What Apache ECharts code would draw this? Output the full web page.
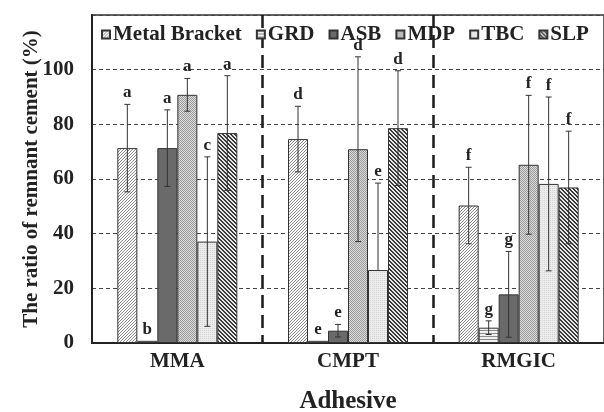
<!DOCTYPE html>
<html>
<head>
<meta charset="utf-8">
<script src="https://cdn.jsdelivr.net/npm/echarts@6/dist/echarts.min.js"></script>
<style>
    html,body{margin:0;padding:0;background:#fff;}
    #chart{width:604px;height:412px;}
</style>
</head>
<body>
<div id="chart"></div>
<script>
    const adhesives = ['MMA', 'CMPT', 'RMGIC']
    const groups = ['Metal Bracket', 'GRD', 'ASB', 'MDP', 'TBC', 'SLP']
    // mean per adhesive, one array per group
    const metalBracket = [71.3, 74.6, 50.3]
    const grd = [0.8, 0.8, 5.6]
    const asb = [71.3, 4.5, 17.8]
    const mdp = [90.8, 70.9, 65.2]
    const tbc = [37.1, 26.7, 58.2]
    const slp = [76.8, 78.6, 56.9]
    // standard deviation
    const sdMetalBracket = [16, 12, 14]
    const sdGrd = [0, 0, 2.5]
    const sdAsb = [14, 2.3, 15.7]
    const sdMdp = [6, 33.8, 25.4]
    const sdTbc = [31, 31.8, 31.8]
    const sdSlp = [21, 21, 20.6]
    // significance letters
    const lettersMetalBracket = ['a', 'd', 'f']
    const lettersGrd = ['b', 'e', 'g']
    const lettersAsb = ['a', 'e', 'g']
    const lettersMdp = ['a', 'd', 'f']
    const lettersTbc = ['c', 'e', 'f']
    const lettersSlp = ['a', 'd', 'f']
    const yTicks = [0, 20, 40, 60, 80, 100]

    const means = [metalBracket, grd, asb, mdp, tbc, slp]
    const sds = [sdMetalBracket, sdGrd, sdAsb, sdMdp, sdTbc, sdSlp]
    const letters = [lettersMetalBracket, lettersGrd, lettersAsb, lettersMdp, lettersTbc, lettersSlp]

    const FONT = '"Liberation Serif","Times New Roman",serif'
    const BAR_W = 20

    // little canvas patterns for the hatched fills
    function makePattern(kind){
        const c = document.createElement('canvas')
        const ctx = c.getContext('2d')
        if(kind === 'fwd'){
            c.width = 3; c.height = 3
            ctx.fillStyle = '#fff'; ctx.fillRect(0,0,3,3)
            ctx.fillStyle = '#8a8a8a'
            for(let i=0;i<3;i++){ ctx.fillRect(2-i,i,1,1) }
        } else if(kind === 'horiz'){
            c.width = 4; c.height = 3
            ctx.fillStyle = '#f0f0f0'; ctx.fillRect(0,0,4,3)
            ctx.fillStyle = '#8c8c8c'; ctx.fillRect(0,0,4,1)
        } else if(kind === 'check'){
            c.width = 2; c.height = 2
            ctx.fillStyle = '#dcdcdc'; ctx.fillRect(0,0,2,2)
            ctx.fillStyle = '#9a9a9a'; ctx.fillRect(0,0,1,1); ctx.fillRect(1,1,1,1)
        } else if(kind === 'dots'){
            c.width = 2; c.height = 2
            ctx.fillStyle = '#ececec'; ctx.fillRect(0,0,2,2)
            ctx.fillStyle = '#d4d4d4'; ctx.fillRect(0,0,1,1)
        } else if(kind === 'back'){
            c.width = 4; c.height = 4
            ctx.fillStyle = '#e8e8e8'; ctx.fillRect(0,0,4,4)
            ctx.fillStyle = '#3a3a3a'
            for(let i=0;i<4;i++){ ctx.fillRect(i,i,1,1); ctx.fillRect((i+1)%4,i,1,1) }
        }
        return {image:c, repeat:'repeat'}
    }
    const fills = [
        makePattern('fwd'),
        makePattern('horiz'),
        '#6a6a6a',
        makePattern('check'),
        makePattern('dots'),
        makePattern('back')
    ]

    const barSeries = groups.map((name, i) => ({
        name: name,
        type: 'bar',
        barWidth: BAR_W,
        barGap: '0%',
        data: means[i],
        itemStyle: {color: fills[i], borderColor: '#333', borderWidth: 1},
        emphasis: {disabled: true}
    }))

    const errSeries = groups.map((name, i) => ({
        name: 'err' + i,
        type: 'custom',
        z: 5,
        silent: true,
        data: adhesives.map((a, k) => [k, means[i][k], sds[i][k], letters[i][k]]),
        renderItem: (params, api) => {
            const k = api.value(0)
            const m = api.value(1)
            const sd = api.value(2)
            const off = (i - 2.5) * BAR_W
            const base = api.coord([k, m])
            const x = base[0] + off
            const top = api.coord([k, m + sd])[1]
            // lower half is not drawn when it would go below zero
            const low = m - sd < 0 ? base[1] : api.coord([k, m - sd])[1]
            const children = []
            if(sd > 0){
                const ls = {stroke: '#333', lineWidth: 1}
                children.push({type:'line', shape:{x1:x, y1:top, x2:x, y2:low}, style:ls})
                children.push({type:'line', shape:{x1:x-3, y1:top, x2:x+3, y2:top}, style:ls})
                if(low !== base[1]){
                    children.push({type:'line', shape:{x1:x-3, y1:low, x2:x+3, y2:low}, style:ls})
                }
            }
            children.push({
                type:'text',
                style:{
                    text: api.value(3),
                    x: x, y: Math.min(top, base[1]) - 3,
                    textAlign: 'center', textVerticalAlign: 'bottom',
                    font: 'bold 17px ' + FONT, fill: '#222'
                }
            })
            return {type:'group', children: children}
        }
    }))

    const chartInstance = echarts.init(document.getElementById('chart'))
    chartInstance.setOption({
        animation: false,
        grid: {
            left: 92, right: 0, top: 15, bottom: 69,
            outerBoundsMode: 'none',
            show: true, borderColor: '#333', borderWidth: 1.5
        },
        legend: {
            data: groups,
            left: 96, top: 19,
            itemWidth: 8, itemHeight: 8, itemGap: 14,
            icon: 'rect',
            textStyle: {fontFamily: FONT, fontWeight: 'bold', fontSize: 21, color: '#222', padding: [0,0,0,-2]}
        },
        xAxis: {
            type: 'category',
            data: adhesives,
            name: 'Adhesive',
            nameLocation: 'middle',
            nameGap: 46,
            nameMoveOverlap: false,
            nameTextStyle: {fontFamily: FONT, fontWeight: 'bold', fontSize: 25, color: '#222'},
            axisLine: {lineStyle: {color: '#222', width: 2}},
            axisTick: {show: false},
            axisLabel: {fontFamily: FONT, fontWeight: 'bold', fontSize: 21, color: '#222', margin: 8},
            splitLine: {
                show: true, showMinLine: false, showMaxLine: false,
                lineStyle: {color: '#1a1a1a', width: 2.5, type: [13, 7]}
            }
        },
        yAxis: {
            type: 'value',
            min: 0, max: 120, interval: 20,
            name: 'The ratio of remnant cement (%)',
            nameLocation: 'middle',
            nameGap: 50,
            nameMoveOverlap: false,
            nameTextStyle: {fontFamily: FONT, fontWeight: 'bold', fontSize: 21, color: '#222'},
            axisLine: {show: true, lineStyle: {color: '#222', width: 2}},
            axisTick: {show: false},
            axisLabel: {
                fontFamily: FONT, fontWeight: 'bold', fontSize: 21, color: '#222', margin: 18,
                formatter: (v) => yTicks.indexOf(v) >= 0 ? String(v) : ''
            },
            splitLine: {lineStyle: {color: '#444', width: 1, type: [4, 3]}}
        },
        series: barSeries.concat(errSeries)
    })
</script>
</body>
</html>
